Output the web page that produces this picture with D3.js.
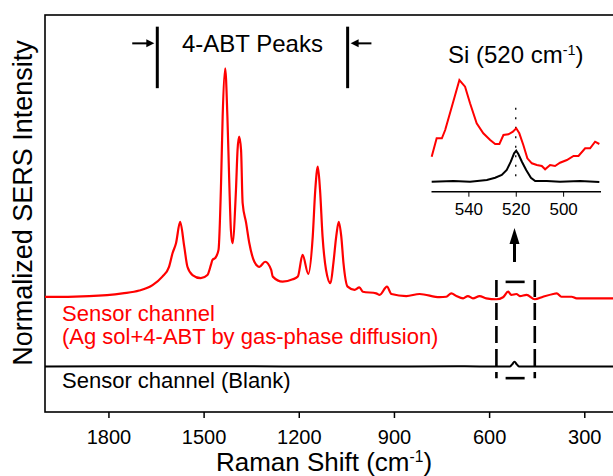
<!DOCTYPE html>
<html>
<head>
<meta charset="utf-8">
<script src="https://cdn.jsdelivr.net/npm/d3@7"></script>
<style>
  body { margin: 0; background: #fff; }
  svg { display: block; }
  text { font-family: "Liberation Sans", Arial, sans-serif; }
</style>
</head>
<body>
<div id="chart"></div>
<script>
(function() {
    'use strict';

    // --- data ---
    const redShift = [2000,1994,1861,1756,1703,1661,1630,1609,1598,1587,1574,1561,1551,1535,1509,1488,1477,1472,1463,1453,
        1445,1440,1432,1425,1419,1414,1409,1398,1393,1388,1382,1377,1366,1356,1340,1324,1306,1287,1282,1251,
        1219,1203,1188,1170,1156,1148,1140,1133,1125,1114,1100,1091,1082,1074,1066,1059,1046,1024,1009,998,
        956,945,922,908,861,819,756,735,719,703,682,667,651,630,609,577,556,540,530,514,
        503,482,456,430,398,387,372,340,324,293,210,200];
    const redIntensity = [0,0,0.004,0.016,0.028,0.052,0.089,0.132,0.191,0.235,0.328,0.22,0.132,0.096,0.082,0.096,0.14,0.162,0.171,0.206,
        0.498,0.788,1.0,0.788,0.498,0.293,0.235,0.468,0.643,0.701,0.643,0.411,0.324,0.236,0.154,0.132,0.154,0.118,0.089,0.067,
        0.077,0.089,0.184,0.101,0.264,0.468,0.57,0.468,0.264,0.118,0.06,0.147,0.264,0.329,0.264,0.147,0.045,0.031,0.042,0.023,
        0.016,0.009,0.045,0.013,0.004,0.013,-0.001,0.001,0.016,0.004,-0.006,0.004,-0.006,0.004,-0.006,-0.01,-0.001,0.023,0.009,0.013,
        0.004,0.009,-0.01,0.001,0.013,0.016,0.001,0.001,-0.006,-0.006,-0.006,-0.006];

    const blankShift = [2000,1500,1000,700,560,535,528,520,512,505,200];
    const blankIntensity = [0,0.001,0,0.001,0,0,0.008,0.021,0.008,0,0];
    const blankOffset = -0.304;

    const xTicks = [1800,1500,1200,900,600,300];
    const xMinorTicks = [1950,1650,1350,1050,750,450];

    // inset (Si 520 region)
    const siRedShift = [555.5,553.4,551.2,549.8,547,543.8,541.4,539.3,536.5,533.7,530.8,528.7,526.9,525.2,523.1,521.2,519.8,518.5,516.8,515.1,
        513.2,511.1,509,507.6,505.5,503.4,501.3,498.4,495.6,493.5,490.7,488.6,486.5,484.7];
    const siRedIntensity = [35,53.4,53.4,61.7,85,111.7,105,88.4,68.4,58.4,51.7,47.7,47.7,56.7,57.4,60,63.4,58.4,46.7,33.4,
        28.4,26.7,25.7,22.4,26.7,25.7,29,31.7,35.7,35.7,43.4,43.4,50,47.7];
    const siBlankShift = [555.5,546.3,539.3,532.2,528.7,525.9,523.8,522.1,520.7,519.8,518.9,517.4,515.6,513.6,511.8,506.9,501.3,492.8,484.7];
    const siBlankIntensity = [10,10.7,10,11.7,14,16.7,21.7,30,38.4,41,37.7,30,21.7,14,10.7,10.7,10,10.7,9.7];
    const siTicks = [540,520,500];
    const siMinorTicks = [550,530,510,490];

    const W = 613, H = 476;
    const svg = d3.select("#chart").append("svg")
        .attr("width", W).attr("height", H);

    const yMin = -0.503, yMax = 1.233;
    const x = d3.scaleLinear().domain([2000, 200]).range([45, 616]);
    const y = d3.scaleLinear().domain([yMin, yMax]).range([412, 15]);

    // frame
    svg.append("rect")
        .attr("x", x(2000)).attr("y", y(yMax))
        .attr("width", x(200) - x(2000)).attr("height", y(yMin) - y(yMax))
        .attr("fill", "none").attr("stroke", "#000").attr("stroke-width", 1.6);

    // x axis
    const gx = svg.append("g").attr("transform", `translate(0,${y(yMin)})`);
    gx.call(d3.axisBottom(x).tickValues(xMinorTicks).tickSize(3.5).tickSizeOuter(0).tickFormat(""));
    gx.call(d3.axisBottom(x).tickValues(xTicks).tickSize(6).tickSizeOuter(0).tickFormat(d3.format("d")));
    gx.selectAll(".domain").remove();
    gx.selectAll("line").attr("stroke", "#000").attr("stroke-width", 1.5);
    gx.selectAll("text")
        .attr("y", 32).attr("dy", 0)
        .style("font-size", "20px").attr("fill", "#000");

    // spectra
    const line = d3.line().x(d => x(d[0])).y(d => y(d[1])).curve(d3.curveMonotoneX);
    svg.append("path")
        .datum(blankShift.map((s, i) => [s, blankIntensity[i] + blankOffset]))
        .attr("d", line).attr("fill", "none")
        .attr("stroke", "#000").attr("stroke-width", 2);
    svg.append("path")
        .datum(redShift.map((s, i) => [s, redIntensity[i]]))
        .attr("d", line).attr("fill", "none")
        .attr("stroke", "#ff0000").attr("stroke-width", 2.2).attr("stroke-linejoin", "round");

    // axis titles
    function supLabel(sel, main, sup, tail) {
        sel.append("tspan").text(main);
        sel.append("tspan").text(sup).attr("dy", "-0.55em").style("font-size", "0.6em");
        sel.append("tspan").text(tail).attr("dy", "0.33em");
    }
    supLabel(svg.append("text")
        .attr("x", 324).attr("y", 471)
        .attr("text-anchor", "middle").style("font-size", "26px"), "Raman Shift (cm", "-1", ")");

    svg.append("text")
        .attr("transform", "translate(31.5,203) rotate(-90)")
        .attr("text-anchor", "middle").style("font-size", "27px")
        .text("Normalized SERS Intensity");

    // legend texts
    svg.append("text").attr("x", 62).attr("y", 320.7)
        .style("font-size", "22px").attr("fill", "#ff0000").text("Sensor channel");
    svg.append("text").attr("x", 62).attr("y", 344)
        .style("font-size", "22px").attr("fill", "#ff0000").text("(Ag sol+4-ABT by gas-phase diffusion)");
    svg.append("text").attr("x", 62).attr("y", 387.5)
        .style("font-size", "22px").attr("fill", "#000").text("Sensor channel (Blank)");

    // 4-ABT peaks bracket
    function arrowHead(g, tipX, tipY, dx, dy, len, half) {
        // dx,dy: unit direction of the arrow
        const bx = tipX - dx * len, by = tipY - dy * len;
        const px = -dy * half, py = dx * half;
        g.append("path")
            .attr("d", `M${tipX},${tipY}L${bx + px},${by + py}L${bx - px},${by - py}Z`)
            .attr("fill", "#000");
    }
    const ann = svg.append("g");
    [1646, 1046].forEach(s => {
        ann.append("line")
            .attr("x1", x(s)).attr("x2", x(s))
            .attr("y1", y(1.182)).attr("y2", y(0.913))
            .attr("stroke", "#000").attr("stroke-width", 3);
    });
    ann.append("line").attr("x1", x(1725)).attr("x2", x(1646) - 8)
        .attr("y1", y(1.109)).attr("y2", y(1.109)).attr("stroke", "#000").attr("stroke-width", 2);
    arrowHead(ann, x(1646) - 3, y(1.109), 1, 0, 8, 4);
    ann.append("line").attr("x1", x(971)).attr("x2", x(1046) + 8)
        .attr("y1", y(1.109)).attr("y2", y(1.109)).attr("stroke", "#000").attr("stroke-width", 2);
    arrowHead(ann, x(1046) + 3, y(1.109), -1, 0, 8, 4);
    ann.append("text").attr("x", x(1346)).attr("y", y(1.071))
        .attr("text-anchor", "middle").style("font-size", "24px").text("4-ABT Peaks");

    // dashed box around Si peak
    [577, 456].forEach(s => {
        ann.append("line")
            .attr("x1", x(s)).attr("x2", x(s))
            .attr("y1", y(0.074)).attr("y2", y(-0.355))
            .attr("stroke", "#000").attr("stroke-width", 2.6)
            .attr("stroke-dasharray", "17 6");
    });
    [0.066, -0.355].forEach(v => {
        ann.append("line")
            .attr("x1", x(548)).attr("x2", x(488))
            .attr("y1", y(v)).attr("y2", y(v))
            .attr("stroke", "#000").attr("stroke-width", 2.6);
    });
    // arrow up to the inset
    ann.append("line").attr("x1", x(520)).attr("x2", x(520))
        .attr("y1", y(0.153)).attr("y2", y(0.302) + 14)
        .attr("stroke", "#000").attr("stroke-width", 3);
    arrowHead(ann, x(520), y(0.302), 0, -1, 16, 5);

    // --- inset ---
    const xi = d3.scaleLinear().domain([556, 484]).range([430.5, 601]);
    const yi = d3.scaleLinear().domain([0, 100]).range([191.7, 91.7]);
    const gi = svg.append("g");

    const gxi = gi.append("g").attr("transform", `translate(0,${yi(0)})`);
    gxi.call(d3.axisBottom(xi).tickValues(siMinorTicks).tickSize(3.5).tickSizeOuter(0).tickFormat(""));
    gxi.call(d3.axisBottom(xi).tickValues(siTicks).tickSize(5).tickSizeOuter(0));
    gxi.selectAll(".domain").remove();
    gxi.append("line").attr("x1", xi(556) + 1).attr("x2", xi(484))
        .attr("stroke", "#000").attr("stroke-width", 1.5);
    gxi.selectAll("line").attr("stroke", "#000");
    gxi.selectAll("text").attr("y", 23.3).attr("dy", 0)
        .style("font-size", "17px").attr("fill", "#000");

    gi.append("line").attr("x1", xi(520)).attr("x2", xi(520))
        .attr("y1", yi(84)).attr("y2", yi(8))
        .attr("stroke", "#000").attr("stroke-width", 1.3).attr("stroke-dasharray", "2 7.5");

    const lineI = d3.line().x(d => xi(d[0])).y(d => yi(d[1]));
    gi.append("path")
        .datum(siBlankShift.map((s, i) => [s, siBlankIntensity[i]]))
        .attr("d", lineI).attr("fill", "none").attr("stroke", "#000").attr("stroke-width", 2);
    gi.append("path")
        .datum(siRedShift.map((s, i) => [s, siRedIntensity[i]]))
        .attr("d", lineI).attr("fill", "none").attr("stroke", "#ff0000").attr("stroke-width", 2);

    supLabel(gi.append("text")
        .attr("x", xi(520)).attr("y", yi(128.7))
        .attr("text-anchor", "middle").style("font-size", "24px"), "Si (520 cm", "-1", ")");
})();
</script>
</body>
</html>
